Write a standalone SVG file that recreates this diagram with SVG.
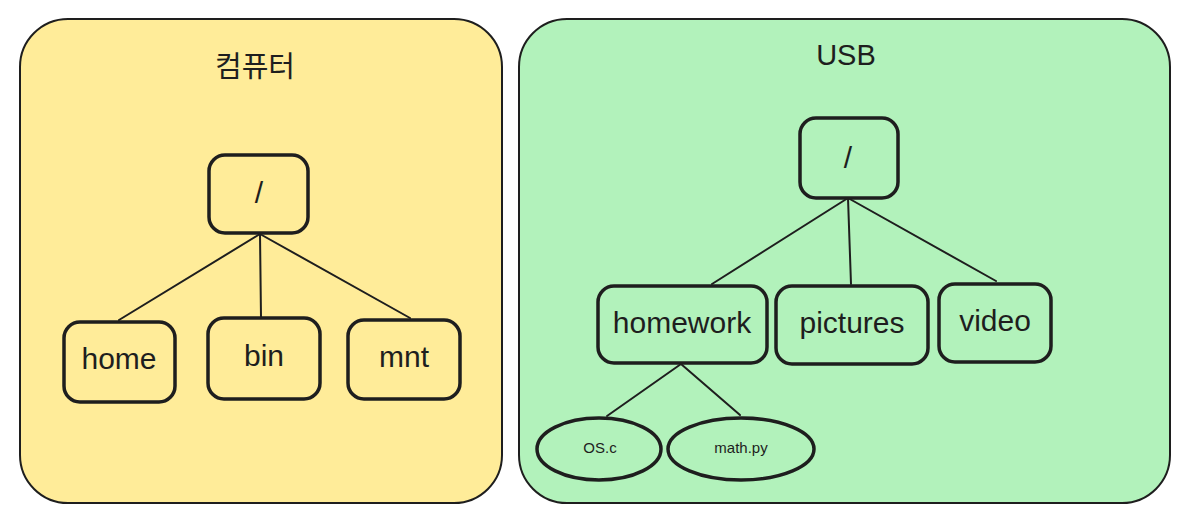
<svg xmlns="http://www.w3.org/2000/svg" width="1191" height="523" viewBox="0 0 1191 523">
<style>
.cont{stroke:#1e1e1e;stroke-width:2;}
.node{fill:none;stroke:#1e1e1e;stroke-width:3.5;stroke-linejoin:round;}
.lbl{font-family:"Liberation Sans","Noto Sans",sans-serif;font-size:30px;fill:#1e1e1e;text-anchor:middle;}
.title{font-family:"Liberation Sans","Noto Sans CJK KR",sans-serif;font-size:29px;fill:#1e1e1e;text-anchor:middle;}
.small{font-family:"Liberation Sans","Noto Sans",sans-serif;font-size:15px;fill:#1e1e1e;text-anchor:middle;}
.edge{stroke:#1e1e1e;stroke-width:2;fill:none;stroke-linecap:round;}
</style>
<rect width="1191" height="523" fill="#ffffff"/>
<g id="computer">
<rect class="cont" x="20" y="19" width="482" height="484" rx="48" fill="#ffec99"/>
<text class="title" x="255" y="77">컴퓨터</text>
</g>
<g id="usb">
<rect class="cont" x="519" y="19" width="651" height="484" rx="48" fill="#b2f2bb"/>
<text class="title" x="846" y="65">USB</text>
</g>
<g id="connectors">
<line class="edge" x1="260" y1="234" x2="119" y2="320"/>
<line class="edge" x1="260" y1="234" x2="261" y2="317"/>
<line class="edge" x1="260" y1="234" x2="410" y2="318"/>
<line class="edge" x1="848" y1="198" x2="712" y2="284"/>
<line class="edge" x1="848" y1="198" x2="851" y2="284"/>
<line class="edge" x1="848" y1="198" x2="996" y2="281"/>
<line class="edge" x1="681" y1="364" x2="607" y2="416"/>
<line class="edge" x1="681" y1="364" x2="740" y2="415"/>
</g>
<g id="root-left">
<rect class="node" x="209" y="155" width="99" height="78" rx="16"/>
<text class="lbl" x="259" y="203" font-size="32">/</text>
</g>
<g id="home">
<rect class="node" x="64" y="322" width="111" height="80" rx="16"/>
<text class="lbl" x="119" y="369">home</text>
</g>
<g id="bin">
<rect class="node" x="208" y="318" width="112" height="81" rx="16"/>
<text class="lbl" x="264" y="366">bin</text>
</g>
<g id="mnt">
<rect class="node" x="348" y="320" width="112" height="79" rx="16"/>
<text class="lbl" x="404" y="367">mnt</text>
</g>
<g id="root-right">
<rect class="node" x="800" y="118" width="98" height="80" rx="16"/>
<text class="lbl" x="848" y="168" font-size="32">/</text>
</g>
<g id="homework">
<rect class="node" x="598" y="286" width="169" height="77" rx="16"/>
<text class="lbl" x="682" y="333" font-size="31">homework</text>
</g>
<g id="pictures">
<rect class="node" x="776" y="286" width="152" height="78" rx="16"/>
<text class="lbl" x="852" y="333" font-size="32">pictures</text>
</g>
<g id="video">
<rect class="node" x="939" y="284" width="112" height="78" rx="16"/>
<text class="lbl" x="995" y="331" font-size="32">video</text>
</g>
<g id="osc">
<ellipse class="node" cx="599" cy="449" rx="62" ry="31"/>
<text class="small" x="600" y="453">OS.c</text>
</g>
<g id="mathpy">
<ellipse class="node" cx="741" cy="449" rx="73" ry="31"/>
<text class="small" x="741" y="453">math.py</text>
</g>
</svg>
